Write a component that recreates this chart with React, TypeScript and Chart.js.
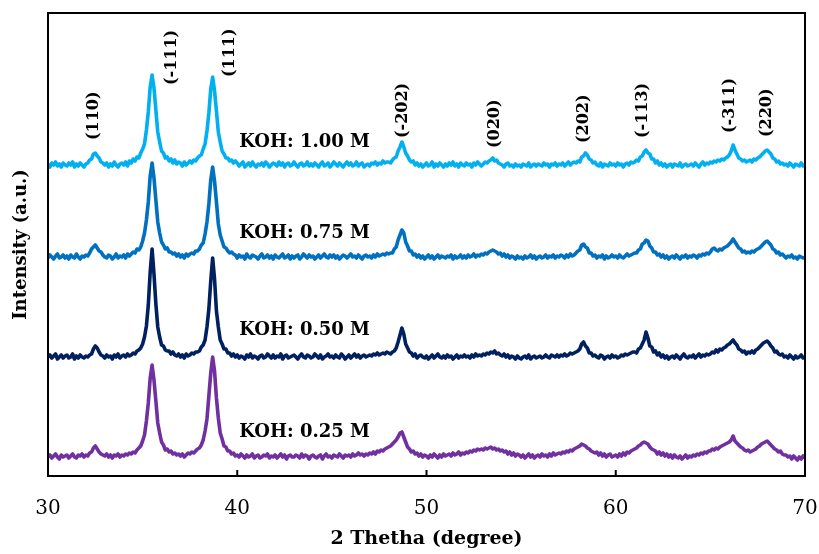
import React, { useEffect, useRef } from "react";
import { Chart, registerables } from "chart.js";

Chart.register(...registerables);

// Scan grid (2θ in degrees)
const THETA_START = 30;
const THETA_STEP = 0.1;
const X_TICKS = [30, 40, 50, 60, 70];

const SERIES_LABELS = ["KOH: 1.00 M", "KOH: 0.75 M", "KOH: 0.50 M", "KOH: 0.25 M"];
const SERIES_COLORS = ["#00B0F0", "#0070C0", "#002060", "#7030A0"];
// vertical stacking offsets (a.u.)
const SERIES_OFFSETS = [311, 219, 119, 19];

// Intensities (a.u.) relative to each pattern's baseline, one row per degree (x.0 … x.9)
const KOH_100 = [
  1, -2, 2, 0, 3, -1, 1, -2, 2, 0,
  -1, 2, 0, 3, -2, 1, -1, 2, 0, -2,
  1, 2, 5, 6, 11, 12, 9, 7, 3, 2,
  0, 2, -2, 1, -1, 3, 0, -2, 1, 2,
  0, 3, -1, 4, 2, 6, 4, 8, 7, 12,
  16, 21, 35, 53, 78, 90, 77, 55, 33, 23,
  14, 12, 7, 8, 4, 6, 2, 5, 1, 3,
  2, -1, 3, 0, 2, 4, 2, 5, 4, 7,
  9, 10, 16, 21, 34, 52, 76, 88, 74, 54,
  33, 23, 14, 11, 7, 7, 4, 5, 2, 4,
  2, -1, 1, 3, -2, 0, 2, -1, 3, 0,
  -2, 1, 0, 2, -1, 3, 1, -2, 0, 2,
  1, -1, 3, 0, 2, -2, 1, 2, -1, 0,
  3, 0, -2, 1, 2, -1, 0, 3, -1, 1,
  -1, 2, 0, -2, 1, 3, -1, 0, 2, -2,
  0, 3, 1, -1, 2, 0, -2, 1, 3, 0,
  2, -1, 0, 3, -1, 1, 2, -2, 0, 1,
  -1, 2, 1, 3, 0, 2, 1, 4, 2, 3,
  3, 2, 5, 7, 8, 14, 18, 23, 18, 12,
  9, 5, 3, 4, 0, 2, -1, 1, -2, 0,
  2, -1, 0, 3, -2, 1, -1, 2, 0, -2,
  1, -1, 2, 0, 3, -1, 1, -2, 2, 0,
  -1, 2, 0, 1, -2, 2, 0, 3, 1, -1,
  1, 3, 2, 4, 5, 7, 4, 5, 2, 1,
  0, -2, 1, 2, -1, 0, -2, 1, -1, 0,
  -2, 1, 0, -1, 2, -2, 0, 1, -1, 1,
  0, -1, 2, 0, 1, -2, 1, 0, 2, -1,
  1, 0, 2, -1, 1, 3, 0, 2, 3, 2,
  4, 3, 8, 9, 12, 10, 6, 5, 2, 3,
  0, -1, 2, -2, 1, 0, -1, 2, 0, 1,
  -1, 2, 0, 1, -2, 1, 2, 0, 3, 2,
  3, 5, 4, 8, 9, 13, 15, 12, 11, 6,
  6, 2, 4, 0, 2, -1, 1, -2, 0, 1,
  -2, 1, 0, -1, 2, -2, 0, 1, -1, 0,
  1, -1, 2, 0, -2, 1, 3, 0, 2, 1,
  3, 2, 4, 3, 5, 4, 6, 5, 7, 8,
  10, 14, 20, 15, 11, 7, 6, 4, 5, 3,
  4, 5, 3, 6, 5, 7, 8, 10, 12, 14,
  15, 13, 11, 7, 6, 3, 4, 1, 2, 0,
  1, -1, 2, 0, -2, 1, 0, -1, 2, -1,
  0,
];

const KOH_075 = [
  -1, 2, 0, -2, 1, 3, -1, 0, 2, -1,
  1, -2, 2, 0, -1, 3, 0, -2, 1, 0,
  2, 1, 4, 8, 10, 12, 9, 6, 5, 2,
  0, -1, 2, 1, -2, 0, 3, -1, 1, 0,
  2, -1, 3, 1, 3, 5, 4, 8, 7, 10,
  16, 24, 37, 55, 81, 94, 79, 57, 35, 24,
  15, 12, 8, 9, 5, 5, 3, 4, 1, 3,
  0, 2, -1, 3, 1, 3, 4, 3, 6, 6,
  8, 12, 14, 23, 35, 53, 77, 90, 76, 55,
  33, 22, 16, 10, 9, 6, 4, 5, 3, 2,
  -1, 2, 0, 1, -2, 3, 0, -1, 2, 1,
  0, -2, 1, 3, -1, 0, 2, -1, 1, -2,
  2, 0, -1, 1, 3, -1, 0, 2, -2, 1,
  -1, 1, 2, -2, 0, 3, 1, -1, 2, 0,
  1, -2, 0, 2, -1, 1, 3, 0, -1, 2,
  0, 2, -1, 1, -2, 0, 2, 1, -1, 1,
  3, 0, 1, -1, 2, 0, -2, 1, 2, 0,
  1, -1, 2, 0, 3, 1, 2, 3, 2, 4,
  3, 4, 4, 8, 10, 17, 22, 27, 24, 15,
  11, 6, 6, 2, 3, 0, 2, -1, 1, -2,
  0, 2, -1, 1, -2, 0, 2, -1, 1, 0,
  -1, 1, 0, 2, -2, 1, -1, 0, 2, -1,
  1, -1, 2, 0, 1, 3, 0, 2, 1, 3,
  2, 4, 3, 5, 6, 7, 6, 5, 3, 4,
  1, 3, 0, 2, -1, 1, 0, -2, 1, -1,
  0, -2, 1, -1, 0, 2, -1, 1, -2, 0,
  1, -1, 0, 2, -1, 1, 0, 2, -1, 1,
  0, 2, 1, -1, 2, 0, 3, 1, 2, 4,
  6, 7, 12, 13, 10, 9, 4, 4, 1, 2,
  -1, 1, 0, 2, -2, 1, -1, 0, 2, 0,
  1, -1, 2, 0, -1, 1, 3, 1, 2, 3,
  4, 4, 7, 8, 13, 14, 17, 16, 11, 9,
  5, 5, 2, 3, 0, 2, -1, 1, -2, 0,
  1, -1, 2, 0, -2, 1, 0, 2, -1, 1,
  0, 2, 1, -1, 2, 1, 3, 2, 4, 3,
  5, 8, 9, 7, 6, 8, 7, 9, 10, 11,
  13, 15, 18, 15, 12, 9, 8, 5, 6, 4,
  5, 4, 6, 5, 7, 8, 9, 11, 13, 15,
  16, 14, 12, 8, 7, 4, 5, 2, 3, 1,
  -1, 1, 0, 2, -1, 0, -2, 1, 0, -1,
  0,
];

const KOH_050 = [
  0, 2, -1, 1, 3, -2, 0, 2, -1, 1,
  2, -1, 0, 3, -2, 1, -1, 2, 0, -1,
  1, 0, 2, 3, 8, 11, 9, 5, 2, 1,
  -1, 2, 0, 1, -2, 2, 0, 3, -1, 1,
  2, 0, 3, 1, 2, 4, 3, 6, 7, 9,
  13, 20, 31, 52, 85, 108, 83, 53, 30, 20,
  12, 11, 7, 6, 6, 3, 5, 2, 1, 3,
  0, 2, -1, 3, 1, 2, 4, 3, 5, 5,
  6, 10, 12, 17, 30, 48, 76, 99, 78, 46,
  30, 17, 13, 8, 8, 4, 4, 1, 3, 0,
  2, -1, 1, 0, -2, 2, 0, 3, -1, 1,
  0, -2, 1, 2, -1, 0, 3, 1, -1, 2,
  -1, 1, 0, 3, -2, 1, 2, -1, 0, 1,
  2, 0, -2, 1, 3, 0, -1, 2, 1, -1,
  0, 3, 1, -1, 2, -2, 0, 1, 3, 0,
  1, -1, 2, 0, -1, 3, 1, -2, 0, 2,
  -1, 1, 3, 0, 2, -1, 1, 2, 0, 1,
  2, 1, 3, 2, 4, 2, 3, 4, 3, 5,
  4, 3, 5, 6, 9, 15, 22, 29, 23, 13,
  9, 5, 4, 1, 3, -1, 1, 2, 0, -1,
  1, -2, 0, 2, -1, 1, 3, 0, -1, 1,
  -1, 2, 0, 1, -2, 0, 2, -1, 1, 0,
  2, 0, 1, -1, 2, 0, 3, 1, 2, 1,
  3, 2, 4, 3, 5, 4, 6, 3, 4, 2,
  1, 3, 0, 2, -1, 1, 0, -2, 1, -1,
  -2, 0, 1, -1, 2, -2, 0, 1, -1, 0,
  1, -1, 0, 2, 0, -1, 2, 1, 0, 2,
  0, 2, 1, 3, 1, 2, 4, 3, 4, 5,
  6, 8, 13, 15, 11, 9, 4, 4, 1, 2,
  0, -1, 2, 1, -2, 0, 1, -1, 2, 0,
  1, -1, 0, 2, 1, 3, 2, 3, 4, 5,
  5, 4, 8, 9, 13, 17, 25, 19, 11, 10,
  5, 6, 2, 4, 0, 2, -1, 1, -2, 0,
  1, -1, 2, 0, -2, 1, 3, 0, -1, 1,
  0, 2, -1, 1, 3, 0, 2, 1, 3, 2,
  3, 5, 4, 7, 5, 8, 7, 9, 10, 12,
  13, 15, 17, 14, 12, 8, 7, 5, 6, 3,
  5, 4, 6, 4, 7, 8, 10, 12, 14, 15,
  16, 14, 11, 9, 5, 6, 3, 2, 3, 0,
  1, -1, 2, 0, -2, 1, -1, 0, 2, -1,
  0,
];

const KOH_025 = [
  0, 2, -1, 1, 3, 0, -2, 2, 0, 1,
  2, -1, 1, 3, 0, -1, 2, 1, 3, 0,
  2, 1, 4, 5, 9, 11, 8, 5, 3, 2,
  1, 3, 0, 2, -1, 2, 1, 3, 0, 2,
  1, 3, 2, 4, 3, 5, 4, 7, 9, 11,
  16, 22, 36, 54, 79, 92, 77, 56, 34, 24,
  15, 12, 7, 8, 5, 6, 3, 4, 2, 3,
  1, 3, 0, 2, 4, 3, 5, 4, 6, 8,
  9, 12, 17, 26, 38, 61, 84, 100, 86, 59,
  39, 24, 18, 11, 10, 6, 6, 3, 4, 1,
  2, 0, 3, 1, -1, 2, 0, 1, 3, -1,
  1, 2, -1, 0, 2, 1, 3, -1, 1, 0,
  2, -1, 1, 3, 0, 2, -2, 1, 2, 0,
  0, 2, 1, -1, 3, 0, 2, 1, -2, 1,
  2, 0, -1, 1, 2, -2, 1, 3, 0, 1,
  -1, 2, 1, 0, 3, 1, -1, 2, 1, 2,
  0, 3, 1, 2, 4, 2, 3, 1, 3, 2,
  4, 3, 5, 3, 6, 5, 7, 6, 8, 9,
  10, 11, 13, 15, 17, 20, 24, 25, 20, 15,
  10, 8, 5, 6, 3, 4, 1, 3, 0, 2,
  1, -1, 2, 0, 3, 1, -1, 2, 0, 3,
  1, 2, 3, 1, 4, 2, 3, 5, 2, 4,
  3, 5, 4, 6, 5, 7, 6, 8, 7, 8,
  7, 9, 8, 9, 10, 8, 9, 7, 8, 6,
  7, 5, 6, 3, 5, 2, 4, 1, 3, 2,
  0, 2, -1, 1, 3, 0, 2, -1, 1, 2,
  0, 3, 1, 2, 0, 3, 1, 4, 2, 3,
  4, 3, 5, 4, 6, 5, 7, 6, 8, 9,
  10, 11, 13, 12, 11, 9, 8, 6, 5, 4,
  5, 2, 4, 1, 3, 0, 2, 3, 0, 1,
  2, 0, 3, 1, 4, 2, 5, 4, 6, 7,
  8, 9, 11, 12, 14, 15, 14, 13, 10, 8,
  7, 6, 3, 5, 2, 4, 1, 3, 0, 2,
  -1, 2, 0, -1, 1, -2, 0, 2, -1, 1,
  0, 2, 1, 3, 2, 4, 3, 5, 4, 6,
  6, 8, 7, 9, 8, 10, 11, 12, 13, 14,
  15, 17, 21, 16, 14, 12, 10, 9, 7, 6,
  7, 5, 6, 7, 8, 10, 11, 13, 14, 15,
  16, 14, 12, 10, 8, 7, 5, 6, 3, 2,
  2, 0, 1, -2, 1, -1, -3, 0, -2, 1,
  -1,
];

const SERIES_VALUES = [KOH_100, KOH_075, KOH_050, KOH_025];

// Miller-index annotations (anchored in data coordinates; text runs upward from the anchor)
const PEAK_LABELS = ["(110)", "(-111)", "(111)", "(-202)", "(020)", "(202)", "(-113)", "(-311)", "(220)"];
const PEAK_LABEL_X = [32.4, 36.55, 39.6, 48.75, 53.6, 58.3, 61.45, 66.05, 68.0];
const PEAK_LABEL_Y = [336, 391, 399, 338, 328, 333, 338, 343, 339];

// Series name annotations
const KOH_LABEL_X = 40.1;
const KOH_LABEL_Y = [334, 243, 146, 44];

const FONT = "'DejaVu Serif', serif";

const annotationPlugin = {
  id: "xrdAnnotations",
  afterDraw(chart: any) {
    const { ctx, chartArea, scales } = chart;
    const xs = scales.x;
    const ys = scales.y;
    ctx.save();
    // frame
    ctx.strokeStyle = "#000";
    ctx.lineWidth = 2;
    ctx.strokeRect(chartArea.left, chartArea.top, chartArea.right - chartArea.left, chartArea.bottom - chartArea.top);
    // inner tick marks
    X_TICKS.forEach((t) => {
      const px = xs.getPixelForValue(t);
      ctx.beginPath();
      ctx.moveTo(px, chartArea.bottom);
      ctx.lineTo(px, chartArea.bottom - 6);
      ctx.stroke();
    });
    // peak labels (rotated)
    ctx.fillStyle = "#000";
    ctx.font = `bold 16px ${FONT}`;
    ctx.textAlign = "left";
    ctx.textBaseline = "middle";
    PEAK_LABELS.forEach((lab, i) => {
      const px = xs.getPixelForValue(PEAK_LABEL_X[i]);
      const py = ys.getPixelForValue(PEAK_LABEL_Y[i]);
      ctx.save();
      ctx.translate(px, py);
      ctx.rotate(-Math.PI / 2);
      ctx.fillText(lab, 0, 0);
      ctx.restore();
    });
    // series labels
    ctx.font = `bold 18px ${FONT}`;
    SERIES_LABELS.forEach((lab, i) => {
      const px = xs.getPixelForValue(KOH_LABEL_X);
      const py = ys.getPixelForValue(KOH_LABEL_Y[i]);
      ctx.fillText(lab, px, py);
    });
    ctx.restore();
  },
};

export default function App() {
  const canvasRef = useRef<HTMLCanvasElement | null>(null);

  useEffect(() => {
    document.body.style.margin = "0";
    const canvas = canvasRef.current;
    if (!canvas) return;
    const datasets = SERIES_VALUES.map((vals, s) => ({
      label: SERIES_LABELS[s],
      data: vals.map((v, i) => ({ x: THETA_START + i * THETA_STEP, y: SERIES_OFFSETS[s] + v })),
      borderColor: SERIES_COLORS[s],
      backgroundColor: SERIES_COLORS[s],
      borderWidth: 3.6,
      pointRadius: 0,
      tension: 0,
      fill: false,
      borderJoinStyle: "round" as const,
    }));
    const chart = new Chart(canvas, {
      type: "line",
      data: { datasets },
      options: {
        animation: false,
        responsive: false,
        maintainAspectRatio: false,
        layout: { padding: { top: 13, right: 14, left: 0, bottom: 0 } },
        plugins: { legend: { display: false }, tooltip: { enabled: false } },
        scales: {
          x: {
            type: "linear",
            min: 30,
            max: 70,
            afterBuildTicks: (scale: any) => {
              scale.ticks = X_TICKS.map((v) => ({ value: v }));
            },
            ticks: {
              font: { family: FONT, size: 20 },
              color: "#000",
              padding: 21,
              maxRotation: 0,
              autoSkip: false,
            },
            grid: { display: false, drawTicks: false },
            border: { display: false },
            title: {
              display: true,
              text: "2 Thetha (degree)",
              color: "#000",
              font: { family: FONT, size: 19, weight: "bold" },
              padding: { top: 0, bottom: 4 },
            },
            afterFit: (scale: any) => {
              scale.height = 78;
              scale.paddingLeft = 0;
              scale.paddingRight = 0;
            },
          },
          y: {
            type: "linear",
            min: 0,
            max: 463,
            ticks: { display: false },
            grid: { display: false, drawTicks: false },
            border: { display: false },
            title: {
              display: true,
              text: "Intensity (a.u.)",
              color: "#000",
              font: { family: FONT, size: 18, weight: "bold" },
              padding: { top: 11, bottom: 0 },
            },
            afterFit: (scale: any) => {
              scale.width = 48;
            },
          },
        },
      },
      plugins: [annotationPlugin],
    });
    return () => chart.destroy();
  }, []);

  return (
    <div style={{ width: 819, height: 554 }}>
      <canvas ref={canvasRef} width={819} height={554} style={{ display: "block" }} />
    </div>
  );
}
